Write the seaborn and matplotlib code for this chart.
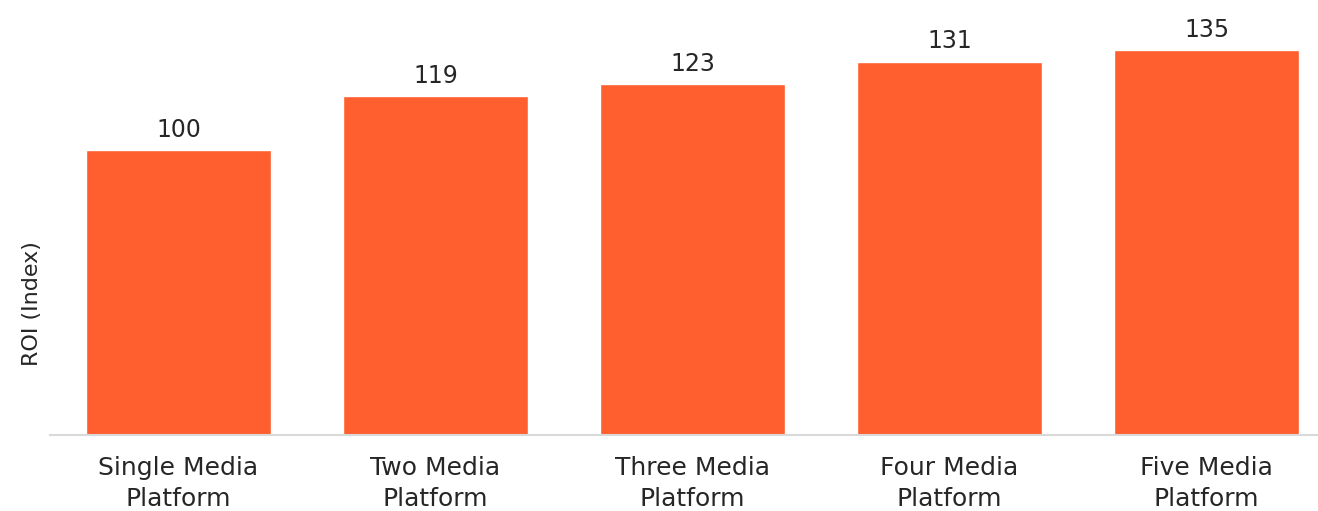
import matplotlib
matplotlib.use("Agg")
import matplotlib.pyplot as plt
import seaborn as sns
import pandas as pd

categories = ["Single Media\nPlatform", "Two Media\nPlatform", "Three Media\nPlatform",
              "Four Media\nPlatform", "Five Media\nPlatform"]
roi_index = [100, 119, 123, 131, 135]

sns.set_theme(style="white")
plt.rcParams['font.family'] = ['DejaVu Sans']

df = pd.DataFrame({"Platform": categories, "ROI": roi_index})

W, H = 1318, 511
fig = plt.figure(figsize=(W / 100, H / 100), dpi=100)
left, right = 50, 1335
bottom_px, top_px = 76, 511 - 36
ax = fig.add_axes([left / W, bottom_px / H, (right - left) / W, (top_px - bottom_px) / H])

sns.barplot(data=df, x="Platform", y="ROI", color="#FF5F2E", saturation=1,
            width=0.72, ax=ax)
ax.set_xlim(-0.5, 4.5)
ax.set_ylim(0, 140)

for c in ax.containers:
    ax.bar_label(c, labels=[str(v) for v in roi_index], padding=6,
                 fontsize=17, color="#262626")

ax.set_xlabel("")
ax.set_ylabel("ROI (Index)", fontsize=16, color="#262626")
ax.yaxis.set_label_coords(-0.0065, 0.33)
ax.set_yticks([])
ax.tick_params(axis="x", length=0, labelsize=18, labelcolor="#262626", pad=15)
for lbl in ax.get_xticklabels():
    lbl.set_linespacing(1.4)
for s in ["top", "right", "left"]:
    ax.spines[s].set_visible(False)
ax.spines["bottom"].set_color("#D9D9D9")
ax.spines["bottom"].set_linewidth(1.5)

fig.savefig("out.png", dpi=100)
